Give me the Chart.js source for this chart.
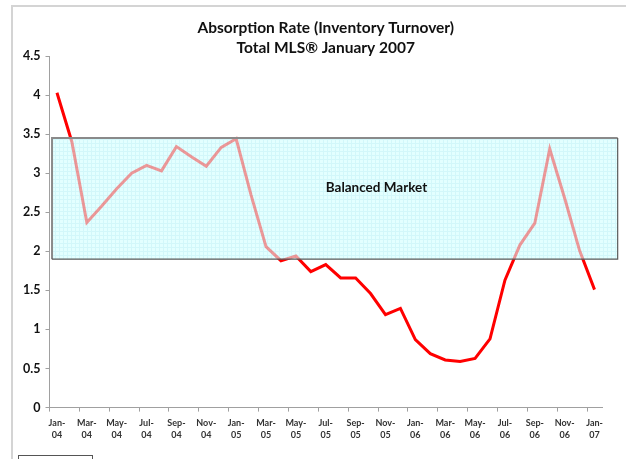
<!DOCTYPE html>
<html>
<head>
<meta charset="utf-8">
<script src="https://cdn.jsdelivr.net/npm/chart.js@4.4.1/dist/chart.umd.min.js"></script>
<style>
  html, body { margin: 0; padding: 0; background: #fff; }
  #chart { display: block; }
</style>
</head>
<body>
<canvas id="chart" width="626" height="459"></canvas>
<script>
// --- DATOS ---
const months = ['Jan-04','Feb-04','Mar-04','Apr-04','May-04','Jun-04','Jul-04','Aug-04','Sep-04','Oct-04','Nov-04','Dec-04',
                'Jan-05','Feb-05','Mar-05','Apr-05','May-05','Jun-05','Jul-05','Aug-05','Sep-05','Oct-05','Nov-05','Dec-05',
                'Jan-06','Feb-06','Mar-06','Apr-06','May-06','Jun-06','Jul-06','Aug-06','Sep-06','Oct-06','Nov-06','Dec-06',
                'Jan-07'];
const absorptionRate = [4.03, 3.40, 2.37, 2.58, 2.80, 3.00, 3.10, 3.03, 3.34, 3.21, 3.09, 3.33,
                        3.44, 2.72, 2.06, 1.88, 1.94, 1.74, 1.83, 1.66, 1.66, 1.46, 1.19, 1.27,
                        0.87, 0.69, 0.61, 0.59, 0.63, 0.88, 1.63, 2.08, 2.36, 3.31, 2.68, 2.01,
                        1.51];
const titleLines = ['Absorption Rate (Inventory Turnover)', 'Total MLS\u00AE January 2007'];

// banda "Balanced Market" (en unidades de los ejes)
const bandLow = 1.9;
const bandHigh = 3.45;
const bandStart = -0.33;   // indice de categoria
const bandEnd = 37.55;
const bandLabel = 'Balanced Market';
const bandLabelX = 21.4;
const bandLabelY = 2.81;

const FONT = 'Lato, "Noto Sans", sans-serif';

// --- PATRON DE LA BANDA ---
function crearPatron(ctx) {
    const tile = document.createElement('canvas');
    tile.width = 4; tile.height = 4;
    const t = tile.getContext('2d');
    t.fillStyle = '#e3ffff';
    t.fillRect(0, 0, 4, 4);
    t.fillStyle = '#d3f7fa';
    t.fillRect(0, 3, 4, 1);
    t.fillRect(3, 0, 1, 4);
    return ctx.createPattern(tile, 'repeat');
}

const bandPlugin = {
    id: 'balancedBand',
    beforeDraw(chart) {
        const ctx = chart.ctx;
        ctx.save();
        // marco exterior (recortado)
        ctx.strokeStyle = '#d4d4d4';
        ctx.lineWidth = 2;
        ctx.beginPath();
        ctx.moveTo(12, chart.height + 2);
        ctx.lineTo(12, 6);
        ctx.lineTo(chart.width + 2, 6);
        ctx.stroke();
        // caja inferior cortada
        ctx.strokeStyle = '#555';
        ctx.lineWidth = 1;
        ctx.strokeRect(18.5, 455.5, 74, 10);
        ctx.restore();
    },
    beforeDatasetsDraw(chart) {
        const { ctx, scales: { x, y } } = chart;
        const x0 = x.getPixelForValue(bandStart), x1 = x.getPixelForValue(bandEnd);
        const y0 = y.getPixelForValue(bandHigh), y1 = y.getPixelForValue(bandLow);
        ctx.save();
        ctx.fillStyle = crearPatron(ctx);
        ctx.fillRect(x0, y0, x1 - x0, y1 - y0);
        ctx.restore();
    },
    afterDatasetsDraw(chart) {
        const { ctx, scales: { x, y } } = chart;
        const x0 = x.getPixelForValue(bandStart), x1 = x.getPixelForValue(bandEnd);
        const y0 = y.getPixelForValue(bandHigh), y1 = y.getPixelForValue(bandLow);
        ctx.save();
        // velo semitransparente sobre la linea
        ctx.globalAlpha = 0.6;
        ctx.fillStyle = crearPatron(ctx);
        ctx.fillRect(x0, y0, x1 - x0, y1 - y0);
        ctx.globalAlpha = 1;
        // borde
        ctx.strokeStyle = '#8a8a8a';
        ctx.lineWidth = 2;
        ctx.beginPath();
        ctx.moveTo(x0, y1); ctx.lineTo(x0, y0); ctx.lineTo(x1, y0);
        ctx.stroke();
        ctx.strokeStyle = '#5a5a5a';
        ctx.lineWidth = 1.2;
        ctx.beginPath();
        ctx.moveTo(x1, y0); ctx.lineTo(x1, y1); ctx.lineTo(x0, y1);
        ctx.stroke();
        // texto
        ctx.fillStyle = '#111';
        ctx.font = 'bold 13.5px ' + FONT;
        ctx.textAlign = 'center';
        ctx.textBaseline = 'middle';
        ctx.fillText(bandLabel, x.getPixelForValue(bandLabelX), y.getPixelForValue(bandLabelY));
        ctx.restore();
    }
};

// --- GRAFICO ---
const axisGray = '#a0a0a0';

new Chart(document.getElementById('chart'), {
    type: 'line',
    data: {
        labels: months,
        datasets: [{
            label: 'Absorption Rate',
            data: absorptionRate,
            borderColor: '#ff0000',
            borderWidth: 3,
            pointRadius: 0,
            tension: 0,
            fill: false
        }]
    },
    options: {
        responsive: false,
        animation: false,
        layout: { padding: { left: 0, right: 24, top: 0, bottom: 12 } },
        plugins: {
            legend: { display: false },
            tooltip: { enabled: false },
            title: {
                display: true,
                fullSize: false,
                text: titleLines,
                color: '#111',
                font: { family: FONT, size: 15.5, weight: 'bold', lineHeight: 1.3 },
                padding: { top: 18, bottom: -2.3 }
            }
        },
        scales: {
            x: {
                type: 'category',
                offset: true,
                border: { color: axisGray, width: 1 },
                grid: {
                    offset: true,
                    drawOnChartArea: false,
                    drawTicks: true,
                    tickLength: 4,
                    color: (c) => (c.index % 2 === 0 ? axisGray : 'rgba(0,0,0,0)')
                },
                ticks: {
                    autoSkip: false,
                    maxRotation: 0,
                    padding: 6,
                    color: '#333',
                    font: { family: FONT, size: 9, weight: 'bold', lineHeight: 1.3 },
                    callback: function (val, i) {
                        if (i % 2 !== 0) return '';
                        const parts = months[i].split('-');
                        return [parts[0] + '-', parts[1]];
                    }
                }
            },
            y: {
                min: 0,
                max: 4.5,
                afterFit: (scale) => { scale.width = 49.5; },
                border: { color: axisGray, width: 1 },
                grid: { drawOnChartArea: false, drawTicks: true, tickLength: 4, color: axisGray },
                ticks: {
                    stepSize: 0.5,
                    padding: 5,
                    color: '#111',
                    font: { family: FONT, size: 12.5, weight: 'bold' },
                    callback: (v) => String(v)
                }
            }
        }
    },
    plugins: [bandPlugin]
});
</script>
</body>
</html>
